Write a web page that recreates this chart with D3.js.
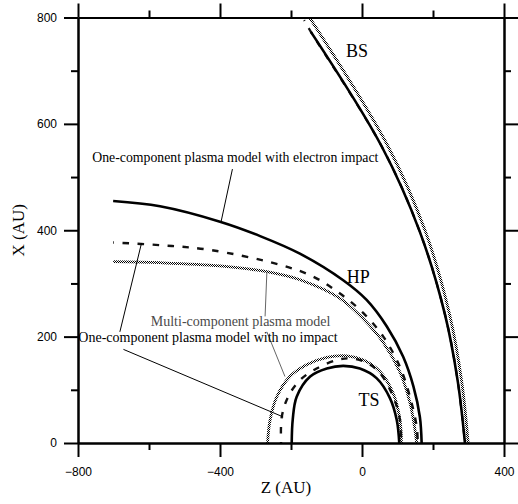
<!DOCTYPE html>
<html><head><meta charset="utf-8">
<script src="https://cdn.jsdelivr.net/npm/d3@7/dist/d3.min.js"></script>
<style>body{margin:0;background:#fff}svg{display:block}</style>
</head><body><svg id="c" width="518" height="504"></svg>
<script>
// ---- tick values ----
const xMajorTicks = [-800, -400, 0, 400];
const xMinorTicks = [-600, -200, 200];
const yMajorTicks = [0, 200, 400, 600, 800];
const yMinorTicks = [100, 300, 500, 700];

// ---- series: [Z (AU), X (AU)] ----
// Heliopause (HP)
const hpElectron = [[-701,455],[-569,445],[-400,416],[-287,389],[-175,356],[-53,306],[13,269],[70,219],[116,162],[145,106],[163,49],[168,0]];
const hpNoImpact = [[-701,377],[-569,372],[-428,363],[-231,335],[-138,313],[-62,281],[4,244],[60,200],[107,143],[135,87],[154,31],[157,0]];
const hpMulti    = [[-701,341],[-569,339],[-400,333],[-268,322],[-175,307],[-62,272],[4,233],[60,189],[107,133],[135,76],[149,26],[154,0]];
// Termination shock (TS)
const tsElectron = [[-198,0],[-195,45],[-184,87],[-146,125],[-99,140],[-53,145],[-6,140],[41,122],[79,84],[98,43],[105,0]];
const tsNoImpact = [[-228,0],[-226,49],[-208,87],[-175,118],[-128,140],[-71,156],[-34,159],[10,152],[51,131],[88,87],[107,43],[110,0]];
const tsMulti    = [[-266,0],[-259,43],[-240,87],[-203,125],[-156,147],[-99,161],[-43,164],[4,156],[51,134],[88,93],[107,43],[111,0]];
// Bow shock (BS)
const bsElectron = [[-144,773],[56,557],[163,397],[234,241],[270,115],[290,0]];
const bsNoImpact = [[-163,795],[-144,773],[56,557],[163,397],[234,241],[270,115],[290,0]];
const bsMulti    = [[-147,799],[74,557],[179,397],[247,241],[281,115],[299,0]];

// ---- texts ----
const xTitle = "Z (AU)";
const yTitle = "X (AU)";
const lblElectron = "One-component plasma model with electron impact";
const lblMulti = "Multi-component plasma model";
const lblNoImpact = "One-component plasma model with no impact";

const W = 518, H = 504;
const m = {left: 78, right: 14, top: 17.5, bottom: 61};
const svg = d3.select("#c");

const defs = svg.append("defs");
const pat = defs.append("pattern").attr("id","hatch").attr("width",2).attr("height",2)
  .attr("patternUnits","userSpaceOnUse");
pat.append("rect").attr("width",2).attr("height",2).attr("fill","#fff");
pat.append("rect").attr("width",1).attr("height",1).attr("fill","#000");
pat.append("rect").attr("x",1).attr("y",1).attr("width",1).attr("height",1).attr("fill","#000");

const x = d3.scaleLinear().domain([-800, 400]).range([m.left, W - m.right]);
const y = d3.scaleLinear().domain([0, 800]).range([H - m.bottom, m.top]);

const line = d3.line().x(d => x(d[0])).y(d => y(d[1])).curve(d3.curveCatmullRom.alpha(0.5));

const g = svg.append("g");
function solid(data){ g.append("path").attr("d", line(data)).attr("fill","none")
  .attr("stroke","#000").attr("stroke-width",2.6); }
function dashed(data, w){ g.append("path").attr("d", line(data)).attr("fill","none")
  .attr("stroke","#111").attr("stroke-width",w || 2.4).attr("stroke-dasharray","6.5,8.5").attr("stroke-dashoffset",5.5); }
function hatched(data){ g.append("path").attr("d", line(data)).attr("fill","none")
  .attr("stroke","url(#hatch)").attr("stroke-width",2.8); }

hatched(hpMulti); dashed(hpNoImpact); solid(hpElectron);
hatched(tsMulti); dashed(tsNoImpact); solid(tsElectron);
hatched(bsMulti); dashed(bsNoImpact, 2.2); solid(bsElectron);

// ---- axes (frame with outward ticks on all sides) ----
function styleAxis(sel){
  sel.selectAll("path.domain").attr("stroke","#000").attr("stroke-width",2);
  sel.selectAll(".tick line").attr("stroke","#000").attr("stroke-width",2);
  sel.selectAll("text").attr("font-family","'Liberation Sans', Arial, sans-serif")
    .attr("font-size",12).attr("fill","#000");
}
const ax = svg.append("g");
styleAxis(ax.append("g").attr("transform",`translate(0,${y(0)})`)
  .call(d3.axisBottom(x).tickValues(xMinorTicks).tickSize(7).tickSizeOuter(0).tickFormat("")));
styleAxis(ax.append("g").attr("transform",`translate(0,${y(0)})`)
  .call(d3.axisBottom(x).tickValues(xMajorTicks).tickSize(14).tickSizeOuter(0).tickPadding(10).tickFormat(d3.format("d"))));
styleAxis(ax.append("g").attr("transform",`translate(0,${y(800)})`)
  .call(d3.axisTop(x).tickValues(xMinorTicks).tickSize(7).tickSizeOuter(0).tickFormat("")));
styleAxis(ax.append("g").attr("transform",`translate(0,${y(800)})`)
  .call(d3.axisTop(x).tickValues(xMajorTicks).tickSize(14).tickSizeOuter(0).tickFormat("")));
styleAxis(ax.append("g").attr("transform",`translate(${x(-800)},0)`)
  .call(d3.axisLeft(y).tickValues(yMinorTicks).tickSize(7).tickSizeOuter(0).tickFormat("")));
styleAxis(ax.append("g").attr("transform",`translate(${x(-800)},0)`)
  .call(d3.axisLeft(y).tickValues(yMajorTicks).tickSize(14).tickSizeOuter(0).tickPadding(7).tickFormat(d3.format("d"))));
styleAxis(ax.append("g").attr("transform",`translate(${x(400)},0)`)
  .call(d3.axisRight(y).tickValues(yMinorTicks).tickSize(7).tickSizeOuter(0).tickFormat("")));
styleAxis(ax.append("g").attr("transform",`translate(${x(400)},0)`)
  .call(d3.axisRight(y).tickValues(yMajorTicks).tickSize(14).tickSizeOuter(0).tickFormat("")));

// ---- titles ----
const serif = "'Liberation Serif', 'Times New Roman', serif";
svg.append("text").attr("x", x(-200) - 5).attr("y", 493).attr("text-anchor","middle")
  .attr("font-family",serif).attr("font-size",17).text(xTitle);
svg.append("text").attr("transform",`translate(24,${y(400)}) rotate(-90)`).attr("text-anchor","middle")
  .attr("font-family",serif).attr("font-size",17).text(yTitle);

// ---- annotations ----
const ann = svg.append("g").attr("font-family",serif);
function leader(a, b, hatch){
  ann.append("line").attr("x1",x(a[0])).attr("y1",y(a[1])).attr("x2",x(b[0])).attr("y2",y(b[1]))
    .attr("stroke", hatch ? "#666" : "#000").attr("stroke-width",1);
}
ann.append("text").attr("x",x(-760)).attr("y",y(529)).attr("font-size",13.8).text(lblElectron);
leader([-365,515],[-397,416]);
ann.append("text").attr("x",x(-595)).attr("y",y(220)).attr("font-size",14).attr("fill","#4a4a4a").text(lblMulti);
leader([-268,321],[-273,238],true);
leader([-268,209],[-217,125],true);
ann.append("text").attr("x",x(-799)).attr("y",y(190)).attr("font-size",14).text(lblNoImpact);
leader([-682,209],[-621,376]);
leader([-672,176],[-222,49]);

ann.append("text").attr("x",x(-43)).attr("y",y(300)).attr("font-size",18).text("HP");
ann.append("text").attr("x",x(-45)).attr("y",y(726)).attr("font-size",18).text("BS");
ann.append("text").attr("x",x(-10)).attr("y",y(70)).attr("font-size",18).text("TS");
</script></body></html>
